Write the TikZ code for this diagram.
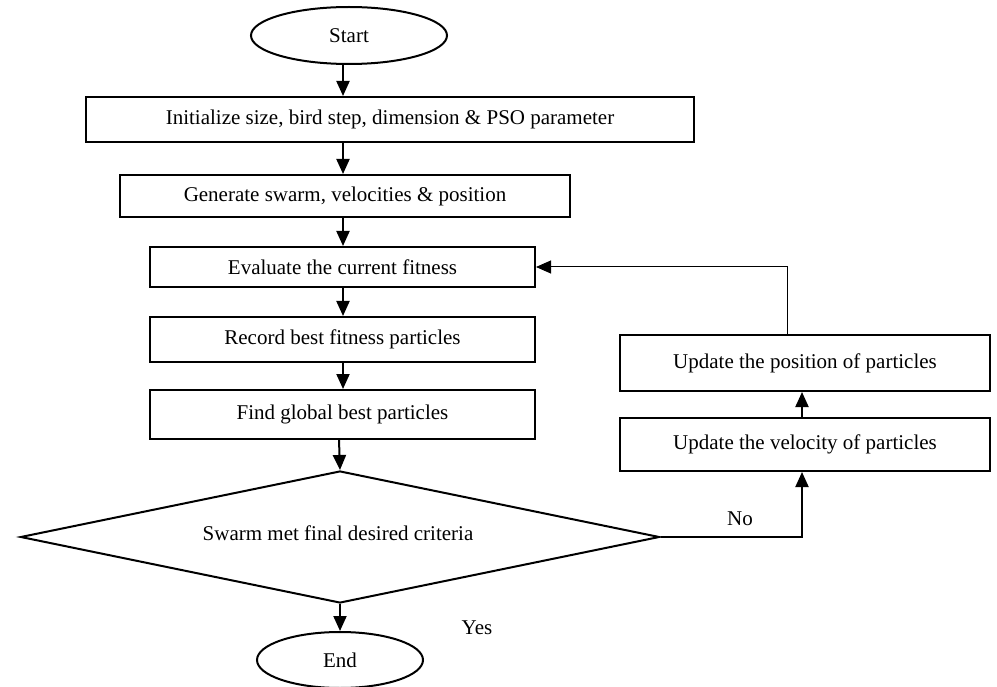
\documentclass[tikz,border=0pt]{standalone}
\usepackage{fontspec}
\setmainfont{Liberation Serif}
\usetikzlibrary{arrows.meta,shapes.geometric}
\tikzset{
  txt/.style={font=\fontsize{21}{25}\selectfont},
  box/.style={draw, line width=2pt, rectangle, inner sep=0pt, txt},
  oval/.style={draw, line width=2pt, ellipse, inner sep=0pt, txt},
  arr/.style={line width=2pt, -{Triangle[length=15pt,width=13pt]}},
  thinarr/.style={line width=1pt, -{Triangle[length=15pt,width=13pt]}},
  lbl/.style={inner sep=0pt, txt}
}
\begin{document}
\begin{tikzpicture}[x=1pt,y=-1pt]
\useasboundingbox (0,0) rectangle (997,687);
\coordinate (col) at (343,0);
\coordinate (colb) at (339,0);
\coordinate (fb) at (787,0);
\coordinate (upc) at (802,0);

\node[oval, minimum width=196pt, minimum height=57pt] (start) at (349,35.5) {Start\hspace{34pt}};
\node[box, minimum width=608pt, minimum height=45pt] (init) at (390,119.5) {Initialize size, bird step, dimension \& PSO parameter};
\node[box, minimum width=450pt, minimum height=42pt] (gen) at (345,196) {Generate swarm, velocities \& position};
\node[box, minimum width=385pt, minimum height=40pt] (eval) at (342.5,267) {Evaluate the current fitness};
\node[box, minimum width=385pt, minimum height=45pt] (rec) at (342.5,339.5) {Record best fitness particles};
\node[box, minimum width=385pt, minimum height=49pt] (find) at (342.5,414.5) {Find global best particles};
\node[draw, line width=2pt, diamond, inner sep=0pt, minimum width=639pt, minimum height=132pt] (dec) at (340,537) {};
\node[lbl] (dectext) at (338,533) {Swarm met final desired criteria};
\node[oval, minimum width=166pt, minimum height=56pt] (end) at (340,660) {End\hspace{24pt}};
\node[box, minimum width=370pt, minimum height=56pt] (pos) at (805,363) {Update the position of particles};
\node[box, minimum width=370pt, minimum height=53pt] (vel) at (805,444.5) {Update the velocity of particles};
\node[lbl] (no) at (740,519) {No};
\node[lbl] (yes) at (477,628) {Yes};

\draw[arr] (start.south -| col) -- (init.north -| col);
\draw[arr] (init.south -| col) -- (gen.north -| col);
\draw[arr] (gen.south -| col) -- (eval.north -| col);
\draw[arr] (eval.south -| col) -- (rec.north -| col);
\draw[arr] (rec.south -| col) -- (find.north -| col);
\draw[arr] (find.south -| colb) -- (dec.north);
\draw[arr] (dec.south) -- (end.north -| dec.south);
\draw[arr] (dec.east) -| (vel.south -| upc);
\draw[arr] (vel.north -| upc) -- (pos.south -| upc);
\draw[thinarr] (pos.north -| fb) |- (eval.east);
\end{tikzpicture}
\end{document}
